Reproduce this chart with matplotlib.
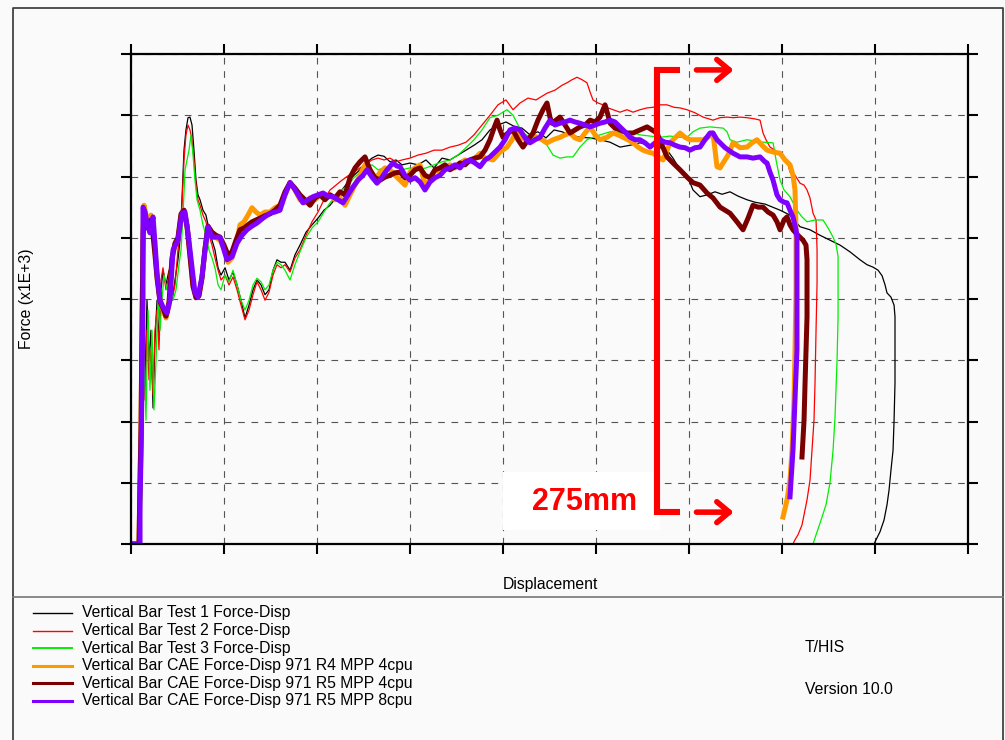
import matplotlib
matplotlib.use("Agg")
import matplotlib.pyplot as plt
from matplotlib.lines import Line2D
from matplotlib.patches import Rectangle

plt.rcParams['font.family'] = ['Liberation Sans', 'DejaVu Sans']

# displacement (grid = 100) / force x1E+3 (grid = 10)
test1_x = [0, 8.6, 10.8, 12.9, 15.1, 17.2, 19.4, 21.5, 23.7, 25.8, 28.0, 30.1, 32.3, 34.4, 37.6, 40.9, 44.1, 47.3, 50.5, 52.7,
           54.8, 57.0, 59.1, 61.3, 63.4, 65.6, 67.7, 69.9, 72.0, 74.2, 77.4, 80.6, 83.9, 87.1, 90.3, 93.6, 96.8, 101.1, 105.4, 109.7,
           114.0, 118.3, 122.6, 126.9, 131.2, 135.5, 139.8, 144.1, 148.4, 152.7, 157.0, 161.3, 165.6, 171.0, 176.3, 181.7, 188.2, 194.6, 201.1, 207.5,
           214.0, 220.4, 226.9, 233.3, 239.8, 246.2, 252.7, 259.1, 265.6, 272.1, 278.5, 285.0, 291.4, 300.0, 308.6, 317.2, 325.8, 334.4, 343.0, 351.6,
           360.2, 368.8, 377.4, 386.0, 394.6, 403.2, 411.8, 420.4, 429.0, 437.6, 446.2, 454.9, 463.5, 472.1, 482.8, 493.6, 504.3, 515.1, 525.8, 536.6,
           547.3, 558.1, 568.8, 576.4, 582.8, 590.3, 597.9, 604.3, 611.8, 619.4, 628.0, 635.5, 644.1, 652.7, 662.4, 671.0, 681.7, 697.9, 708.6, 719.4,
           730.1, 740.9, 751.6, 762.4, 773.1, 783.9, 791.4, 797.9, 803.3, 807.6, 810.8, 812.9, 817.2, 820.5, 821.5, 821.5, 821.5, 820.5, 819.4, 817.2,
           815.1, 812.9, 809.7, 805.4, 801.1, 798.9]
test1_y = [0, 0, 12.1, 34.9, 26.8, 39.8, 30.0, 34.9, 22.2, 33.3, 39.8, 33.3, 41.5, 44.7, 42.3, 44.7, 39.8, 43.1, 46.4, 49.6,
           56.2, 64.3, 67.6, 69.6, 69.7, 68.4, 64.3, 59.4, 57.0, 56.2, 54.5, 53.7, 51.3, 49.6, 48.0, 45.1, 43.9, 45.1, 43.1, 44.4,
           42.3, 39.8, 36.9, 39.0, 41.5, 43.1, 42.3, 40.7, 41.5, 44.7, 46.4, 46.0, 46.0, 44.7, 47.2, 48.8, 50.9, 52.1, 53.2, 54.5,
           55.3, 56.5, 57.8, 59.1, 60.2, 61.1, 62.2, 63.0, 63.5, 63.3, 62.4, 62.7, 61.9, 62.2, 61.9, 62.7, 61.4, 63.0, 62.7, 63.5,
           64.3, 65.1, 66.0, 67.6, 68.4, 68.9, 68.2, 67.9, 66.8, 67.3, 66.3, 67.6, 67.3, 66.8, 66.4, 66.3, 66.0, 65.6, 64.8, 65.1,
           65.5, 65.1, 64.7, 64.3, 63.0, 61.1, 60.2, 57.8, 56.7, 57.0, 57.5, 57.1, 57.5, 56.8, 56.2, 55.8, 55.5, 54.5, 53.7, 51.8,
           51.3, 50.4, 49.6, 48.8, 47.7, 46.4, 45.6, 45.2, 44.7, 43.8, 42.3, 41.0, 40.3, 39.0, 37.1, 31.7, 26.3, 20.2, 15.3, 12.1,
           8.8, 6.4, 3.9, 2.0, 0.7, 0]

test2_x = [0, 8.6, 10.8, 12.9, 15.1, 17.2, 19.4, 21.5, 23.7, 25.8, 28.0, 30.1, 32.3, 34.4, 37.6, 40.9, 44.1, 47.3, 50.5, 52.7,
           54.8, 57.0, 59.1, 61.3, 63.4, 65.6, 67.7, 69.9, 72.0, 74.2, 77.4, 80.6, 83.9, 87.1, 90.3, 93.6, 96.8, 101.1, 105.4, 109.7,
           114.0, 118.3, 122.6, 126.9, 131.2, 135.5, 139.8, 144.1, 148.4, 152.7, 157.0, 161.3, 165.6, 171.0, 176.3, 181.7, 188.2, 194.6, 201.1, 207.5,
           214.0, 220.4, 226.9, 233.3, 239.8, 246.2, 252.7, 259.1, 265.6, 272.1, 278.5, 285.0, 291.4, 300.0, 308.6, 317.2, 325.8, 334.4, 343.0, 351.6,
           360.2, 368.8, 377.4, 386.0, 394.6, 403.2, 410.8, 418.3, 426.9, 435.5, 447.3, 455.9, 463.5, 468.8, 474.2, 479.6, 485.0, 490.3, 493.6, 496.8,
           502.2, 507.5, 512.9, 518.3, 525.8, 533.3, 539.8, 547.3, 554.9, 561.3, 568.8, 576.4, 583.9, 590.3, 597.9, 606.5, 615.1, 625.8, 633.4, 640.9,
           647.4, 654.9, 662.4, 671.0, 676.4, 679.6, 682.8, 687.1, 692.5, 697.9, 705.4, 708.6, 714.0, 719.4, 723.7, 726.9, 730.1, 733.4, 736.6, 737.7,
           737.7, 736.6, 735.5, 734.4, 732.3, 730.1, 726.9, 724.8, 721.5, 717.2, 714.0, 711.8, 651.6]
test2_y = [0, 0, 10.4, 33.3, 23.5, 34.9, 26.8, 31.7, 24.3, 34.9, 38.2, 31.7, 43.1, 45.1, 41.5, 43.9, 39.8, 42.3, 48.0, 51.3,
           55.3, 62.7, 66.8, 68.4, 67.6, 66.0, 62.7, 58.6, 56.2, 55.3, 53.7, 52.6, 50.4, 48.8, 46.7, 44.7, 43.1, 43.9, 42.3, 43.6,
           41.5, 39.0, 36.6, 38.2, 40.7, 42.8, 41.5, 39.8, 41.1, 43.9, 45.6, 45.1, 45.6, 44.4, 46.7, 48.0, 50.4, 52.6, 54.2, 56.2,
           57.8, 58.6, 59.4, 60.1, 60.7, 61.4, 62.0, 62.7, 63.0, 62.7, 63.0, 62.4, 62.7, 63.0, 63.5, 63.8, 64.3, 64.3, 64.8, 65.1,
           65.6, 66.8, 68.4, 70.0, 71.7, 72.5, 70.9, 72.0, 72.8, 72.5, 73.6, 74.1, 74.9, 75.3, 75.8, 76.2, 75.8, 75.3, 73.8, 72.5,
           72.0, 71.7, 71.2, 70.9, 70.5, 70.9, 70.5, 70.9, 71.2, 71.3, 71.7, 71.7, 71.3, 71.2, 70.9, 70.4, 69.7, 69.2, 69.6, 69.7,
           69.6, 69.7, 69.6, 69.4, 69.2, 67.1, 66.0, 64.8, 64.3, 63.5, 62.7, 60.7, 60.2, 58.9, 58.6, 57.8, 56.5, 54.0, 52.9, 48.0,
           42.6, 34.9, 26.3, 20.2, 15.3, 10.4, 7.2, 5.6, 3.1, 1.5, 0.7, 0, 0]

test3_x = [0, 9.7, 11.8, 14.0, 16.1, 18.3, 20.4, 22.6, 24.7, 26.9, 29.0, 31.2, 33.3, 35.5, 38.7, 41.9, 45.2, 48.4, 51.6, 53.8,
           55.9, 58.1, 60.2, 62.4, 64.5, 66.7, 68.8, 71.0, 74.2, 77.4, 80.6, 83.9, 87.1, 90.3, 93.6, 96.8, 101.1, 105.4, 109.7, 114.0,
           118.3, 122.6, 126.9, 131.2, 135.5, 139.8, 144.1, 148.4, 152.7, 157.0, 161.3, 165.6, 171.0, 176.3, 181.7, 188.2, 194.6, 201.1, 207.5, 214.0,
           220.4, 226.9, 233.3, 239.8, 246.2, 252.7, 259.1, 265.6, 272.1, 278.5, 285.0, 291.4, 300.0, 308.6, 317.2, 325.8, 334.4, 343.0, 351.6, 360.2,
           368.8, 377.4, 386.0, 394.6, 404.3, 410.8, 416.2, 421.5, 429.0, 439.8, 447.3, 453.8, 461.3, 468.8, 475.3, 482.8, 490.3, 496.8, 504.3, 515.1,
           525.8, 536.6, 547.3, 558.1, 568.8, 579.5, 590.3, 597.9, 604.3, 611.8, 622.6, 636.6, 640.9, 644.1, 651.6, 662.4, 671.0, 679.6, 690.4, 693.6,
           697.9, 702.2, 708.6, 716.1, 721.5, 726.9, 735.5, 744.1, 749.5, 754.9, 758.1, 760.3, 760.3, 760.3, 759.2, 757.0, 754.9, 751.6, 747.3, 740.9,
           736.6, 733.4, 690.4]
test3_y = [0, 0, 8.8, 31.7, 20.2, 38.2, 25.1, 34.9, 21.9, 30.0, 39.8, 34.9, 39.8, 43.9, 41.5, 43.4, 39.8, 41.5, 45.6, 48.0,
           53.7, 61.1, 62.7, 64.3, 66.8, 63.5, 59.4, 56.2, 54.5, 52.1, 50.4, 48.0, 46.7, 45.1, 42.3, 41.5, 43.9, 42.8, 44.7, 42.3,
           39.8, 38.2, 39.8, 42.3, 43.4, 42.8, 41.5, 42.3, 44.7, 46.0, 45.6, 44.7, 43.1, 45.6, 47.7, 50.0, 51.6, 52.6, 54.2, 55.7,
           56.8, 57.8, 58.6, 59.8, 60.7, 61.4, 61.9, 61.1, 61.4, 61.1, 60.7, 61.1, 61.4, 61.1, 61.4, 61.9, 62.4, 62.7, 63.5, 64.7,
           66.0, 67.6, 69.6, 70.0, 70.9, 70.0, 68.4, 67.1, 66.4, 66.0, 65.1, 63.5, 63.0, 63.2, 63.2, 64.8, 66.0, 66.4, 66.8, 67.3,
           67.1, 67.3, 66.8, 66.6, 66.4, 66.6, 66.4, 66.4, 67.3, 67.9, 68.1, 67.9, 67.3, 66.0, 65.6, 66.0, 65.8, 65.6, 65.5, 62.7,
           59.4, 57.8, 56.7, 54.5, 53.4, 52.6, 52.9, 52.9, 51.6, 50.1, 48.9, 46.9, 41.5, 37.1, 30.0, 20.7, 15.3, 10.0, 6.4, 3.4,
           1.5, 0, 0]

cae_r4_4cpu_x = [0, 8.6, 9.7, 10.8, 11.8, 12.9, 14.0, 15.1, 17.2, 19.4, 21.5, 23.7, 25.8, 28.0, 31.2, 34.4, 37.6, 40.9, 44.1, 47.3,
                 50.5, 53.8, 57.0, 60.2, 63.4, 66.7, 69.9, 73.1, 76.3, 79.6, 82.8, 87.1, 91.4, 95.7, 100.0, 104.3, 108.6, 112.9, 117.2, 121.5,
                 125.8, 130.1, 134.4, 138.7, 144.1, 149.5, 154.8, 160.2, 165.6, 171.0, 176.3, 181.7, 187.1, 192.5, 197.9, 203.2, 208.6, 214.0, 219.4, 224.7,
                 230.1, 235.5, 240.9, 246.2, 251.6, 257.0, 262.4, 267.8, 273.1, 278.5, 283.9, 289.3, 294.6, 300.0, 305.4, 310.8, 316.1, 321.5, 326.9, 332.3,
                 337.6, 343.0, 348.4, 353.8, 359.2, 364.5, 369.9, 375.3, 380.7, 389.3, 396.8, 404.3, 409.7, 415.1, 420.4, 425.8, 431.2, 436.6, 442.0, 447.3,
                 453.8, 461.3, 466.7, 472.1, 477.4, 482.8, 488.2, 493.6, 499.0, 504.3, 511.8, 518.3, 523.7, 529.0, 534.4, 539.8, 545.2, 550.5, 555.9, 561.3,
                 566.7, 572.1, 576.4, 579.6, 585.0, 590.3, 595.7, 601.1, 608.6, 615.1, 620.4, 625.8, 628.0, 630.1, 633.4, 636.6, 642.0, 647.4, 654.9, 662.4,
                 667.8, 673.1, 678.5, 683.9, 690.4, 697.9, 703.2, 708.6, 711.8, 714.0, 715.1, 715.1, 714.0, 712.9, 710.8, 708.6, 705.4, 701.1]
cae_r4_4cpu_y = [0, 0, 10.4, 20.2, 34.9, 51.3, 55.3, 54.5, 52.9, 52.1, 53.7, 51.3, 48.0, 43.9, 39.8, 38.2, 36.9, 39.0, 46.4, 48.8,
                 49.6, 53.7, 54.5, 52.1, 47.2, 42.3, 40.3, 40.7, 43.4, 48.0, 51.6, 50.4, 50.0, 49.6, 48.3, 46.0, 46.7, 48.8, 52.1, 52.6,
                 53.7, 54.9, 54.2, 53.7, 54.2, 54.2, 54.9, 55.3, 57.0, 59.0, 57.8, 56.2, 55.7, 56.5, 56.2, 57.0, 56.5, 57.0, 56.2, 56.5,
                 55.3, 57.0, 58.6, 60.2, 61.9, 61.1, 59.4, 60.7, 61.4, 61.1, 60.2, 59.4, 58.6, 60.7, 61.4, 61.9, 58.6, 59.4, 61.1, 60.7,
                 61.4, 61.9, 61.4, 62.2, 62.7, 62.4, 63.0, 63.8, 63.0, 62.7, 64.0, 64.8, 66.0, 67.6, 66.3, 66.0, 66.8, 66.4, 66.0, 65.5,
                 66.0, 66.4, 66.8, 67.1, 66.3, 66.0, 67.1, 68.1, 66.8, 66.0, 66.4, 67.1, 66.8, 66.4, 66.0, 65.5, 64.8, 64.3, 64.0, 63.8,
                 63.2, 62.7, 64.3, 65.5, 66.3, 67.1, 66.4, 66.0, 66.0, 66.0, 66.4, 67.1, 64.3, 61.6, 61.4, 62.2, 63.5, 65.5, 64.7, 64.8,
                 65.5, 66.0, 65.1, 64.3, 64.0, 63.8, 62.7, 61.9, 60.2, 57.8, 50.8, 41.5, 31.7, 23.5, 15.3, 10.4, 7.2, 4.4]

cae_r5_4cpu_x = [0, 8.6, 9.7, 10.8, 11.8, 12.9, 14.0, 15.1, 17.2, 19.4, 21.5, 23.7, 25.8, 28.0, 31.2, 34.4, 37.6, 40.9, 44.1, 47.3,
                 50.5, 53.8, 57.0, 60.2, 63.4, 66.7, 69.9, 73.1, 76.3, 79.6, 82.8, 87.1, 91.4, 95.7, 100.0, 104.3, 108.6, 112.9, 117.2, 121.5,
                 125.8, 130.1, 134.4, 138.7, 144.1, 149.5, 154.8, 160.2, 165.6, 171.0, 176.3, 181.7, 187.1, 192.5, 197.9, 203.2, 208.6, 214.0, 219.4, 224.7,
                 230.1, 235.5, 240.9, 246.2, 251.6, 257.0, 262.4, 267.8, 273.1, 278.5, 283.9, 289.3, 294.6, 300.0, 305.4, 310.8, 316.1, 321.5, 326.9, 332.3,
                 337.6, 343.0, 348.4, 353.8, 359.2, 364.5, 369.9, 375.3, 380.7, 386.0, 390.3, 393.6, 396.8, 400.0, 405.4, 410.8, 416.2, 421.5, 426.9, 432.3,
                 437.6, 443.0, 447.3, 450.6, 452.7, 457.0, 461.3, 466.7, 472.1, 477.4, 482.8, 488.2, 493.6, 499.0, 504.3, 509.7, 512.9, 515.1, 520.4, 525.8,
                 533.3, 539.8, 547.3, 554.9, 560.2, 565.6, 571.0, 576.4, 582.8, 590.3, 597.9, 604.3, 611.8, 619.4, 625.8, 633.4, 638.8, 644.1, 651.6, 658.1,
                 663.5, 668.8, 674.2, 679.6, 685.0, 690.4, 694.6, 697.9, 702.2, 705.4, 708.6, 711.8, 717.2, 722.6, 725.8, 726.9, 726.9, 725.8, 724.8, 723.7,
                 721.5]
cae_r5_4cpu_y = [0, 0, 10.4, 18.6, 34.9, 49.6, 54.5, 53.7, 52.1, 51.3, 52.9, 50.4, 47.2, 43.4, 39.5, 38.5, 37.2, 39.5, 46.7, 49.1,
                 50.0, 53.9, 54.5, 51.9, 47.0, 42.0, 40.2, 40.5, 43.4, 48.3, 51.9, 50.9, 50.4, 50.1, 48.8, 47.2, 47.7, 49.6, 51.3, 51.6,
                 52.1, 52.6, 52.9, 53.2, 53.6, 53.9, 54.5, 55.3, 57.5, 59.0, 58.1, 57.0, 56.2, 55.3, 56.5, 57.0, 56.2, 57.0, 56.5, 57.5,
                 57.0, 59.8, 61.4, 62.4, 63.2, 61.1, 59.8, 59.4, 59.9, 60.2, 60.6, 60.7, 59.8, 60.2, 61.1, 61.4, 60.2, 59.8, 61.1, 61.4,
                 61.9, 61.1, 61.6, 62.2, 61.9, 62.7, 63.0, 63.2, 64.3, 66.0, 67.9, 69.2, 67.6, 66.4, 67.1, 67.6, 66.0, 64.8, 66.0, 67.1,
                 69.2, 70.9, 72.0, 69.6, 68.7, 69.2, 69.7, 68.4, 67.1, 67.6, 68.1, 68.4, 69.2, 68.9, 69.7, 71.7, 70.0, 68.7, 67.9, 67.6,
                 67.1, 67.1, 67.6, 68.1, 67.6, 67.1, 65.1, 63.2, 62.2, 61.1, 59.9, 59.0, 58.6, 57.3, 56.5, 55.0, 54.5, 54.0, 52.6, 51.3,
                 53.2, 55.3, 55.0, 55.0, 54.2, 53.7, 52.6, 51.3, 52.9, 53.4, 52.1, 51.3, 50.4, 49.6, 48.8, 46.4, 37.1, 31.7, 26.3, 20.2,
                 14.2]

cae_r5_8cpu_x = [0, 9.7, 9.7, 10.8, 11.8, 12.9, 12.9, 15.1, 17.2, 20.4, 23.7, 25.8, 28.0, 31.2, 34.4, 38.7, 41.9, 45.2, 50.5, 54.8,
                 58.1, 61.3, 65.6, 68.8, 72.0, 76.3, 79.6, 82.8, 87.1, 91.4, 95.7, 100.0, 103.2, 108.6, 114.0, 119.4, 124.7, 130.1, 135.5, 141.9,
                 149.5, 154.8, 160.2, 165.6, 171.0, 175.3, 178.5, 181.7, 184.9, 190.3, 195.7, 201.1, 206.5, 211.8, 217.2, 222.6, 228.0, 233.3, 238.7, 244.1,
                 249.5, 253.8, 259.1, 264.5, 269.9, 275.3, 281.7, 286.0, 289.3, 294.6, 300.0, 305.4, 310.8, 316.1, 321.5, 326.9, 332.3, 337.6, 343.0, 348.4,
                 353.8, 359.2, 364.5, 369.9, 375.3, 380.7, 386.0, 391.4, 396.8, 402.2, 407.5, 412.9, 418.3, 423.7, 429.0, 434.4, 439.8, 445.2, 450.6, 455.9,
                 461.3, 466.7, 472.1, 477.4, 482.8, 488.2, 493.6, 499.0, 504.3, 509.7, 515.1, 520.4, 525.8, 531.2, 536.6, 542.0, 547.3, 552.7, 558.1, 563.5,
                 568.8, 574.2, 579.6, 585.0, 590.3, 595.7, 601.1, 606.5, 611.8, 617.2, 622.6, 625.8, 630.1, 633.4, 638.8, 647.4, 654.9, 662.4, 668.8, 676.4,
                 681.7, 683.9, 687.1, 690.4, 694.6, 697.9, 702.2, 705.4, 708.6, 711.8, 715.1, 716.1, 716.1, 716.1, 714.0, 711.8, 709.7, 708.6]
cae_r5_8cpu_y = [0, 0, 7.2, 14.2, 26.8, 39.8, 55.0, 54.2, 52.4, 50.8, 53.4, 49.1, 44.2, 39.8, 38.7, 37.7, 39.8, 48.0, 49.6, 54.0,
                 54.2, 50.8, 45.2, 41.0, 40.3, 43.6, 48.0, 51.8, 50.1, 50.1, 50.1, 48.0, 46.4, 46.9, 49.1, 50.4, 51.3, 51.9, 52.4, 53.2,
                 54.0, 54.2, 54.5, 57.0, 59.0, 58.1, 57.3, 56.5, 55.7, 56.2, 56.7, 57.0, 57.3, 56.8, 56.7, 56.2, 55.7, 57.0, 58.3, 59.4,
                 60.2, 61.1, 59.9, 58.9, 59.9, 61.1, 62.2, 61.7, 61.6, 60.2, 59.4, 59.8, 59.1, 57.8, 59.1, 59.8, 60.2, 61.1, 61.4, 61.9,
                 61.4, 62.4, 62.7, 62.2, 61.6, 62.7, 63.2, 64.0, 64.8, 66.0, 67.6, 67.9, 67.6, 66.3, 65.5, 66.0, 66.4, 67.9, 69.2, 68.4,
                 68.7, 68.9, 69.2, 68.9, 68.7, 68.4, 68.1, 68.4, 68.7, 68.9, 69.2, 68.9, 68.1, 67.3, 66.4, 66.0, 66.0, 65.5, 64.8, 65.5,
                 66.0, 65.6, 65.5, 65.1, 64.8, 64.7, 64.3, 64.7, 64.8, 66.0, 67.1, 67.1, 66.0, 65.5, 64.7, 63.8, 63.2, 63.2, 63.0, 63.2,
                 62.4, 62.2, 60.7, 59.4, 57.0, 56.2, 55.8, 55.7, 54.5, 53.4, 51.3, 50.1, 43.1, 31.7, 23.5, 15.3, 10.4, 7.7]

labels = ["Vertical Bar Test 1 Force-Disp",
          "Vertical Bar Test 2 Force-Disp",
          "Vertical Bar Test 3 Force-Disp",
          "Vertical Bar CAE Force-Disp 971 R4 MPP 4cpu",
          "Vertical Bar CAE Force-Disp 971 R5 MPP 4cpu",
          "Vertical Bar CAE Force-Disp 971 R5 MPP 8cpu"]
colors = ["#000000", "#ff0000", "#00ee00", "#ff9900", "#7a0000", "#8000ff"]
widths = [0.9, 0.9, 0.9, 3.6, 3.6, 3.6]
legend_widths = [1.0, 1.0, 1.4, 2.2, 2.2, 2.2]
series = [(test1_x, test1_y), (test2_x, test2_y), (test3_x, test3_y),
          (cae_r4_4cpu_x, cae_r4_4cpu_y), (cae_r5_4cpu_x, cae_r5_4cpu_y), (cae_r5_8cpu_x, cae_r5_8cpu_y)]

W, H = 1005, 740
bg = "#fafafa"
fs = 11.3
fig = plt.figure(figsize=(W / 100, H / 100), dpi=100, facecolor=bg)
ax = fig.add_axes([131 / W, 1 - 544 / H, 837 / W, 490 / H], facecolor=bg)

for (xs, ys), c, lw in zip(series, colors, widths):
    ax.plot(xs, ys, color=c, lw=lw, solid_joinstyle="round", zorder=2)

ax.set_xlim(0, 900)
ax.set_ylim(0, 80)
ax.set_xticks(range(0, 901, 100))
ax.set_yticks(range(0, 81, 10))
ax.tick_params(which="both", direction="out", length=7.5, width=1.5, color="black",
               top=True, right=True, labelbottom=False, labelleft=False)
for s in ax.spines.values():
    s.set_linewidth(1.6)
    s.set_color("black")
ax.grid(True, color="#555555", lw=0.8, linestyle=(0, (6, 6)))
ax.set_axisbelow(True)

# 275mm callout
ax.add_patch(Rectangle((400, 2.3), 168.8, 9.5, facecolor="white", edgecolor="none", zorder=3))
ax.text(488, 6.9, "275mm", ha="center", va="center", fontsize=22, fontweight="bold", color="red", zorder=4)
ax.plot([590.3, 565.6, 565.6, 590.3], [77.4, 77.4, 5.2, 5.2], color="red", lw=4.4,
        solid_joinstyle="miter", solid_capstyle="butt", zorder=5, clip_on=False)
for yy in (77.4, 5.2):
    ax.annotate("", xy=(648, yy), xytext=(608, yy),
                arrowprops=dict(arrowstyle="->,head_length=0.9,head_width=0.75", lw=4, color="red",
                                shrinkA=0, shrinkB=0), zorder=5, annotation_clip=False)

# frame and separator
fig.add_artist(Line2D([13 / W, 13 / W, 1003 / W, 1003 / W], [0, 1 - 8 / H, 1 - 8 / H, 0],
                      color="#333333", lw=1.2))
fig.add_artist(Line2D([13 / W, 1003 / W], [1 - 597 / H, 1 - 597 / H], color="#777777", lw=1.2))

fig.text(27 / W, 1 - 299 / H, "Force (x1E+3)", rotation=90, ha="center", va="center", fontsize=fs)
fig.text(550 / W, 1 - 585 / H, "Displacement", ha="center", va="center", fontsize=fs)

for i, (lab, c, lw) in enumerate(zip(labels, colors, legend_widths)):
    yy = 1 - (613 + i * 17.6) / H
    fig.add_artist(Line2D([33 / W, 72 / W], [yy, yy], color=c, lw=lw))
    fig.text(82 / W, yy, lab, ha="left", va="center", fontsize=fs)

fig.text(805 / W, 1 - 647 / H, "T/HIS", ha="left", va="center", fontsize=fs)
fig.text(805 / W, 1 - 690 / H, "Version 10.0", ha="left", va="center", fontsize=fs)

fig.savefig("out.png", dpi=100, facecolor=bg)
